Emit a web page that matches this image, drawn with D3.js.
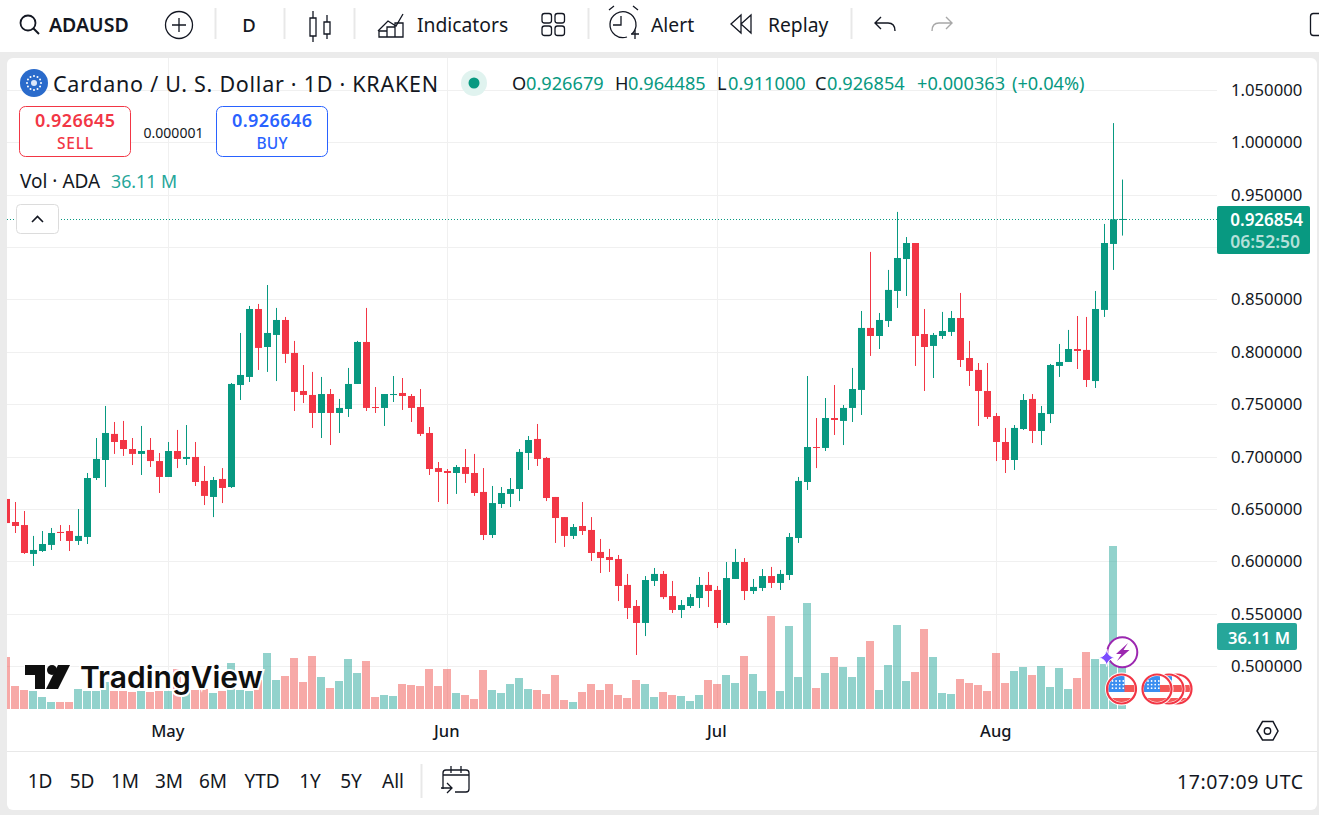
<!DOCTYPE html>
<html><head><meta charset="utf-8">
<style>
html,body{margin:0;padding:0;background:#ebebeb;overflow:hidden}
svg{display:block}
text{font-family:"Noto Sans",sans-serif;fill:#131722}
</style>
<script src="https://cdn.jsdelivr.net/npm/d3@7"></script>
</head><body><svg id="c" width="1319" height="815"></svg>
<script>
const startDate = "2025-04-13";
const opens = [.6595,.6375,.6346,.6070,.6098,.6156,.6280,.6289,.6194,.6232,.6795,.6967,.7216,.7158,.7072,.7025,.7063,.6957,.6805,.7053,.6977,.6996,.6767,.6614,.6786,.6709,.7683,.7760,.8409,.8046,.8161,.8304,.7989,.7626,.7588,.7416,.7597,.7416,.7454,.7693,.8094,.7473,.7464,.7588,.7607,.7578,.7473,.7225,.6890,.6862,.6843,.6900,.6843,.6662,.6251,.6547,.6643,.6690,.7034,.7168,.6986,.6614,.6422,.6242,.6337,.6299,.6089,.6041,.6022,.5774,.5573,.5411,.5812,.5879,.5668,.5535,.5573,.5649,.5774,.5726,.5411,.5831,.5993,.5716,.5745,.5859,.5793,.5869,.6222,.6757,.7091,.7082,.7368,.7340,.7464,.7636,.8228,.8151,.8294,.8581,.8886,.9039,.8170,.8056,.8151,.8190,.8323,.7941,.7827,.7626,.7387,.7139,.6967,.7263,.7550,.7244,.7406,.7865,.7903,.8027,.8018,.7721,.8400,.9030,.926679];
const highs = [.6595,.6566,.6480,.6242,.6289,.6318,.6346,.6346,.6499,.6843,.7177,.7483,.7330,.7340,.7177,.7292,.7177,.7034,.7139,.7254,.7301,.7139,.6910,.6805,.6890,.7702,.8180,.8438,.8457,.8638,.8419,.8333,.8104,.7874,.7808,.7760,.7645,.7550,.7846,.8104,.8419,.7664,.7597,.7769,.7750,.7597,.7645,.7282,.6948,.6881,.6919,.7072,.7025,.6890,.6719,.6709,.6795,.7072,.7196,.7311,.6996,.6614,.6422,.6356,.6566,.6422,.6213,.6118,.6060,.5879,.5630,.5859,.5936,.5907,.5812,.5630,.5688,.5850,.5898,.5764,.5993,.6118,.6031,.5831,.5926,.5946,.5917,.6270,.6805,.7769,.7368,.7559,.7683,.7492,.7846,.8390,.8954,.8371,.8782,.9336,.9096,.9039,.8409,.8180,.8381,.8390,.8562,.8104,.7893,.7893,.7416,.7273,.7301,.7597,.7597,.7483,.7884,.8075,.8209,.8342,.8333,.8581,.9221,1.0184,.964485];
const lows = [.6365,.6270,.6070,.5955,.6089,.6108,.6194,.6098,.6156,.6165,.6776,.6709,.7025,.7006,.6919,.6824,.6900,.6652,.6805,.6890,.6919,.6719,.6537,.6422,.6556,.6700,.7540,.7712,.7827,.7808,.7721,.7893,.7435,.7511,.7273,.7177,.7110,.7225,.7378,.7693,.7435,.7416,.7292,.7521,.7445,.7330,.7196,.6824,.6566,.6547,.6643,.6748,.6624,.6203,.6222,.6509,.6518,.6575,.6872,.6910,.6575,.6175,.6137,.6213,.6251,.6003,.5888,.5898,.5620,.5449,.5105,.5286,.5764,.5639,.5506,.5458,.5554,.5554,.5563,.5363,.5392,.5831,.5630,.5688,.5716,.5745,.5726,.5821,.6175,.6681,.6890,.7053,.7206,.7110,.7330,.7397,.7961,.8027,.8237,.8419,.8533,.7865,.7626,.7750,.8123,.8151,.7855,.7674,.7292,.7359,.6957,.6843,.6872,.7254,.7129,.7110,.7320,.7760,.7903,.7836,.7664,.7655,.8333,.8782,.911];
const closes = [.6365,.6337,.6079,.6108,.6165,.6270,.6270,.6194,.6242,.6795,.6977,.7225,.7139,.7072,.7025,.7053,.6957,.6805,.7053,.6977,.6996,.6757,.6624,.6776,.6700,.7693,.7779,.8409,.8037,.8180,.8304,.7980,.7617,.7588,.7416,.7597,.7416,.7464,.7693,.8094,.7464,.7464,.7597,.7597,.7578,.7464,.7216,.6881,.6853,.6843,.6900,.6834,.6652,.6251,.6556,.6652,.6690,.7044,.7158,.6977,.6604,.6413,.6242,.6327,.6289,.6079,.6031,.6012,.5764,.5554,.5411,.5821,.5879,.5658,.5535,.5582,.5658,.5774,.5716,.5411,.5840,.5993,.5716,.5755,.5859,.5793,.5879,.6232,.6767,.7091,.7082,.7368,.7349,.7464,.7645,.8228,.8151,.8304,.8591,.8896,.9039,.8151,.8046,.8161,.8199,.8323,.7922,.7817,.7626,.7378,.7139,.6967,.7273,.7540,.7244,.7416,.7874,.7903,.8027,.8008,.7731,.8409,.9039,.926491,.926854];
const volumes = [26,11.5,9.5,9,6,3.5,3.5,3.5,10,9,9,13.5,9,9,8.5,9,8.5,9,9,20,9,9.5,10,8,9,23,9.5,9,14.5,28,14.5,16.5,25.5,13.5,26.5,16,10.5,14,25,18,24,6,7,6.5,12.5,12,11.5,20,11.5,20,8,7,5,19.5,9.5,8,12.5,15.5,10,9.5,7.5,17,4.5,3.5,8.5,12.5,9.5,12.5,7,5.5,14.5,12.5,6,8.5,7,6.5,4,7,14.5,12.5,17,13,26.5,17.5,9,46.5,9,41.5,16,53,10.5,18,26,21,16,26,34,9.5,22,42,14,18.5,40,26,8,7.5,15,13,12,9,28,13,19,21,17,21.5,11,20.5,10,15.5,28.5,25,22.5,81.5,36.11];
const priceTicks = [1.05,1,.95,.9,.85,.8,.75,.7,.65,.6,.55,.5];
const monthTicks = ["2025-05-01","2025-06-01","2025-07-01","2025-08-01"];
const rangeButtons = ["1D","5D","1M","3M","6M","YTD","1Y","5Y","All"];
const legendTitle = "Cardano / U. S. Dollar · 1D · KRAKEN";

const GREEN="#089981", RED="#F23645";
const svg=d3.select("#c");
const dates=opens.map((_,i)=>d3.utcDay.offset(new Date(startDate+"T00:00:00Z"),i));
const x=d3.scaleUtc().domain([dates[0],dates[dates.length-1]]).range([6.3,1122.3]);
const y=d3.scaleLinear().domain([.5,1.05]).range([666,90]);
const yv=d3.scaleLinear().domain([0,81.5]).range([709,546]);

function txt(g,s,xx,yy,size,o={}){
  const t=g.append("text").attr("x",xx).attr("y",yy).attr("font-size",size)
    .attr("dominant-baseline","central")
    .attr("text-anchor",o.a||"start").attr("font-weight",o.w||400)
    .style("fill",o.f||"#131722").text(s);
  if(o.len) t.attr("textLength",o.len).attr("lengthAdjust","spacing");
  return t;
}
// panels
svg.append("rect").attr("width",1319).attr("height",52).attr("fill","#fff");
svg.append("rect").attr("x",7).attr("y",58).attr("width",1310).attr("height",752).attr("rx",6).attr("fill","#fff");

const defs=svg.append("defs");
defs.append("clipPath").attr("id","plot").append("rect").attr("x",7).attr("y",58).attr("width",1210).attr("height",651);

// grid
const grid=svg.append("g").attr("stroke","#f0f0f0").attr("stroke-width",1);
grid.selectAll("line.h").data(priceTicks).join("line").attr("class","h")
  .attr("x1",7).attr("x2",1217).attr("y1",d=>Math.round(y(d))+.5).attr("y2",d=>Math.round(y(d))+.5);
grid.selectAll("line.v").data(monthTicks).join("line").attr("class","v")
  .attr("x1",d=>Math.floor(x(new Date(d+"T00:00:00Z")))+.5).attr("x2",d=>Math.floor(x(new Date(d+"T00:00:00Z")))+.5)
  .attr("y1",58).attr("y2",709);

// volume
const plot=svg.append("g").attr("clip-path","url(#plot)");
const idx=d3.range(opens.length);
const up=i=>closes[i]>=opens[i];
plot.append("g").selectAll("rect").data(idx).join("rect")
  .attr("x",i=>Math.floor(x(dates[i]))-4).attr("width",8)
  .attr("y",i=>yv(volumes[i])).attr("height",i=>709-yv(volumes[i]))
  .attr("fill",i=>up(i)?"rgba(38,166,154,.5)":"rgba(239,83,80,.5)");

// current price line
plot.append("line").attr("x1",7).attr("x2",1217).attr("y1",Math.round(y(closes[closes.length-1]))+.5).attr("y2",Math.round(y(closes[closes.length-1]))+.5)
  .attr("stroke",GREEN).attr("stroke-dasharray","1 2");

// candles
const cg=plot.append("g");
cg.selectAll("rect.w").data(idx).join("rect").attr("class","w")
  .attr("x",i=>Math.floor(x(dates[i]))).attr("width",1)
  .attr("y",i=>y(highs[i])).attr("height",i=>y(lows[i])-y(highs[i]))
  .attr("fill",i=>up(i)?GREEN:RED);
cg.selectAll("rect.b").data(idx).join("rect").attr("class","b")
  .attr("x",i=>Math.floor(x(dates[i]))-3).attr("width",7)
  .attr("y",i=>y(Math.max(opens[i],closes[i])))
  .attr("height",i=>Math.max(1,Math.abs(y(opens[i])-y(closes[i]))))
  .attr("fill",i=>up(i)?GREEN:RED);

// axes
const ay=svg.append("g").attr("transform","translate(1217,0)")
  .call(d3.axisRight(y).tickValues(priceTicks.filter(d=>d!==.9)).tickSize(0).tickPadding(14).tickFormat(d3.format(".6f")));
ay.select(".domain").remove();
ay.selectAll("text").attr("font-size",16.7).attr("dy","0.33em").style("fill","#131722").style("font-family",'"Noto Sans",sans-serif');
const ax=svg.append("g").attr("transform","translate(0,720)")
  .call(d3.axisBottom(x).tickValues(monthTicks.map(d=>new Date(d+"T00:00:00Z"))).tickSize(0).tickPadding(5).tickFormat(d3.utcFormat("%b")));
ax.select(".domain").remove();
ax.selectAll("text").attr("font-size",16.5).attr("font-weight",500).attr("dx",-1).style("fill","#131722").style("font-family",'"Noto Sans",sans-serif');
svg.append("line").attr("x1",7).attr("x2",1317).attr("y1",751.5).attr("y2",751.5).attr("stroke","#e8e8e8");

// watermark
const wm=svg.append("g");
wm.append("path").attr("fill","#0f0f0f").attr("stroke","#fff").attr("stroke-width",2).attr("paint-order","stroke")
  .attr("d","M25 665H45V689H35V675H25Z M70 665L58 689H46L58 665Z");
wm.append("circle").attr("cx",52).attr("cy",670).attr("r",5).attr("fill","#0f0f0f");
wm.append("text").attr("x",80).attr("y",677).attr("font-size",30).attr("font-weight",600).attr("dominant-baseline","central")
  .style("font-family","Inter,sans-serif").style("fill","#0f0f0f").attr("stroke","#fff").attr("stroke-width",4).attr("paint-order","stroke").text("TradingView");

// markers
function flag(cx,cy,i){
  const id="fl"+i;
  defs.append("clipPath").attr("id",id).append("circle").attr("cx",cx).attr("cy",cy).attr("r",13);
  const g=svg.append("g");
  g.append("circle").attr("cx",cx).attr("cy",cy).attr("r",16.5).attr("fill","#fff");
  const f=g.append("g").attr("clip-path",`url(#${id})`);
  f.append("rect").attr("x",cx-14).attr("y",cy-14).attr("width",28).attr("height",28).attr("fill","#fff");
  f.append("rect").attr("x",cx-14).attr("y",cy-4).attr("width",28).attr("height",7).attr("fill","#f45757");
  f.append("rect").attr("x",cx-14).attr("y",cy+9).attr("width",28).attr("height",6).attr("fill","#f45757");
  f.append("rect").attr("x",cx-14).attr("y",cy-14).attr("width",17).attr("height",17).attr("fill","#3a8ef0");
  d3.range(3).forEach(r=>d3.range(4).forEach(c=>f.append("circle").attr("cx",cx-9+c*3.6).attr("cy",cy-8+r*3.6).attr("r",.9).attr("fill","#fff")));
  g.append("circle").attr("cx",cx).attr("cy",cy).attr("r",14.5).attr("fill","none").attr("stroke",RED).attr("stroke-width",2.2);
}
[[1177,689,3],[1169,689,2],[1157,689,1],[1121.5,689,0]].forEach(a=>flag(...a));
svg.append("circle").attr("cx",1122.3).attr("cy",652.3).attr("r",15).attr("fill","#fff").attr("stroke","#9c27b0").attr("stroke-width",2);
svg.append("path").attr("fill","#9c27b0").attr("d","M1128 643L1116 654H1121.5L1117 661L1129.5 650H1123.5Z");
svg.append("path").attr("fill","#7c4dff").attr("stroke","#fff").attr("stroke-width",1).attr("d","M1106.7 649Q1107.5 656.5 1115 657.7Q1107.5 659 1106.7 666.5Q1106 659 1098.5 657.7Q1106 656.5 1106.7 649Z");

// price labels
svg.append("rect").attr("x",1217).attr("y",206).attr("width",93).attr("height",48).attr("rx",2).attr("fill",GREEN);
txt(svg,"0.926854",1303,219.5,17,{a:"end",w:600,f:"#fff"});
txt(svg,"06:52:50",1300,241,17.5,{a:"end",w:600,f:"#b5e0d9"});
svg.append("rect").attr("x",1217).attr("y",623).attr("width",80).attr("height",27).attr("rx",2).attr("fill","#26a69a");
txt(svg,"36.11 M",1290,637,16.5,{a:"end",w:600,f:"#fff"});

// legend
svg.append("circle").attr("cx",34).attr("cy",83).attr("r",14).attr("fill","#2a6bcb");
svg.append("g").selectAll("circle").data(d3.range(12)).join("circle")
  .attr("cx",d=>34+7*Math.cos(d*Math.PI/6)).attr("cy",d=>83+7*Math.sin(d*Math.PI/6)).attr("r",1).attr("fill","#fff");
svg.append("circle").attr("cx",34).attr("cy",83).attr("r",3).attr("fill","#dce8fa");
txt(svg,legendTitle,53,83,21.5,{len:385});
svg.append("circle").attr("cx",474).attr("cy",83).attr("r",13).attr("fill","#e0f3ef");
svg.append("circle").attr("cx",474).attr("cy",83).attr("r",5.5).attr("fill",GREEN);
[["O",512],["H",615],["L",717],["C",815]].forEach(a=>txt(svg,a[0],a[1],83,18.2));
[["0.926679",526],["0.964485",628],["0.911000",728],["0.926854",827],["+0.000363",917],["(+0.04%)",1012]].forEach(a=>txt(svg,a[0],a[1],83,18.2,{f:GREEN}));

// sell/buy
svg.append("rect").attr("x",19.5).attr("y",106.5).attr("width",111).attr("height",50).attr("rx",6).attr("fill","#fff").attr("stroke",RED);
txt(svg,"0.926645",75,119.5,18,{a:"middle",w:600,f:RED,len:80});
txt(svg,"SELL",75,142.5,15.5,{a:"middle",f:RED,w:500,len:36});
txt(svg,"0.000001",173.5,132,14,{a:"middle"});
svg.append("rect").attr("x",216.5).attr("y",106.5).attr("width",111).attr("height",50).attr("rx",6).attr("fill","#fff").attr("stroke","#2962FF");
txt(svg,"0.926646",272,119.5,18,{a:"middle",w:600,f:"#2962FF",len:80});
txt(svg,"BUY",272,142.5,15.5,{a:"middle",f:"#2962FF",w:500,len:31});
txt(svg,"Vol · ADA",20,181,19);
txt(svg,"36.11 M",111,181,17.8,{f:"#26a69a"});
svg.append("rect").attr("x",16.5).attr("y",204.5).attr("width",42).attr("height",29).attr("rx",4).attr("fill","#fff").attr("stroke","#dcdcdc");
svg.append("path").attr("d","M32 222L37.5 216.5L43 222").attr("fill","none").attr("stroke","#131722").attr("stroke-width",1.6);

// top toolbar
const ic={fill:"none",stroke:"#131722","stroke-width":1.3};
function p(d,o={}){const e=svg.append("path").attr("d",d);Object.entries({...ic,...o}).forEach(([k,v])=>e.attr(k,v));return e;}
svg.append("circle").attr("cx",28).attr("cy",23).attr("r",7.5).attr("fill","none").attr("stroke","#131722").attr("stroke-width",1.8);
p("M33.5 28.5L39 34",{"stroke-width":2});
txt(svg,"ADAUSD",49,24,19.5,{w:600});
svg.append("circle").attr("cx",179).attr("cy",25).attr("r",13.5).attr("fill","none").attr("stroke","#131722").attr("stroke-width",1.3);
p("M172 25H186M179 18V32");
[215,284,354,588,851].forEach(v=>svg.append("line").attr("x1",v+.5).attr("x2",v+.5).attr("y1",8).attr("y2",39).attr("stroke","#e8e8e8").attr("stroke-width",2));
txt(svg,"D",249,24,18.5,{a:"middle",w:500});
p("M313 11V18M313 36V42M310 18h6v18h-6zM327 15V22M327 34V39M324 22h6v12h-6z");
p("M378 31L388 21L396 26L403 14");
p("M379 37h8v-6h-8zM387 37v-10h8v10M395 37v-14h8v14h-24");
txt(svg,"Indicators",417,24,19.3);
[[542,13.5],[555,13.5],[542,26],[555,26]].forEach(a=>svg.append("rect").attr("x",a[0]).attr("y",a[1]).attr("width",9.5).attr("height",9.5).attr("rx",2.5).attr("fill","none").attr("stroke","#131722").attr("stroke-width",1.3));
svg.append("path").attr("d","M632 34A13 13 0 1 0 627 37").attr("fill","none").attr("stroke","#131722").attr("stroke-width",1.3);
p("M621 16V25H613M609 10L614 6M633 6L638 10M631 34H639M635 30V39");
txt(svg,"Alert",651,24,19.3);
p("M741 15L731 24L741 33ZM751 15L741 24L751 33Z");
txt(svg,"Replay",768,24,19.3);
p("M881 17L875 23L881 29M875 23H888Q895 23 895 31",{"stroke-width":1.4});
p("M946 17L952 23L946 29M952 23H939Q932 23 932 31",{"stroke-width":1.4,stroke:"#a8a8a8"});
svg.append("rect").attr("x",1310.5).attr("y",13.5).attr("width",14).attr("height",22).attr("rx",3).attr("fill","none").attr("stroke","#131722").attr("stroke-width",1.3);

// bottom toolbar
const btnX=[40,82,125,169,213,262,310,351,393];
rangeButtons.forEach((b,i)=>txt(svg,b,btnX[i],781,19,{a:"middle"}));
svg.append("line").attr("x1",421.5).attr("x2",421.5).attr("y1",764).attr("y2",798).attr("stroke","#e8e8e8").attr("stroke-width",2);
p("M443 789V773a3 3 0 0 1 3-3h20a3 3 0 0 1 3 3V789a3 3 0 0 1-3 3h-11M443 775H469M451 766V773M461 766V773M441 788H452M447 783L452 788L447 793");
txt(svg,"17:07:09 UTC",1177,781,19.5,{len:126});
p("M1257 731L1262.5 721.5H1273L1278 731L1273 740H1262.5Z",{"stroke-width":1.5});
svg.append("circle").attr("cx",1267.5).attr("cy",731).attr("r",3.2).attr("fill","none").attr("stroke","#131722").attr("stroke-width",1.4);
</script></body></html>
